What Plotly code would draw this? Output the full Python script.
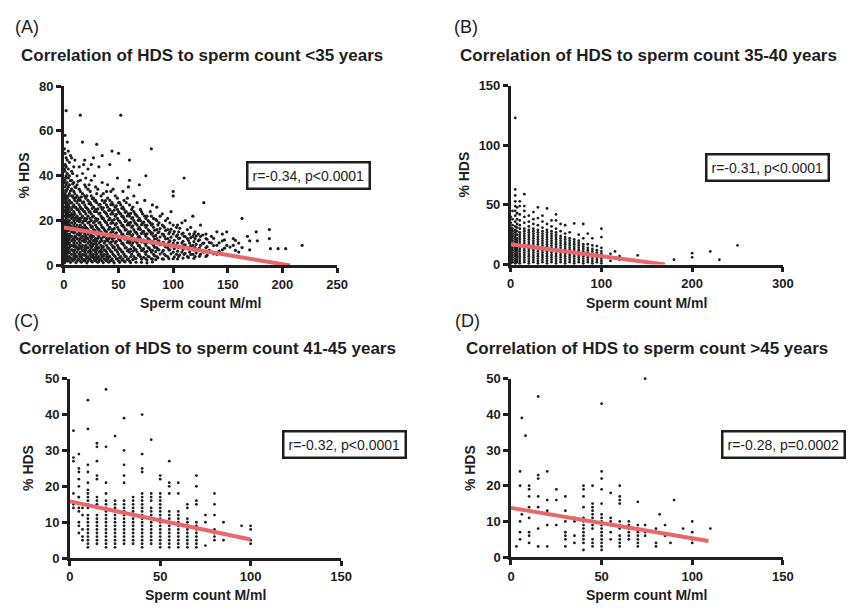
import plotly.graph_objects as go

W, H = 859, 611

# ---------------- Panel A (<35 years) ----------------
A_col_x = [1, 2, 3, 4, 5, 7, 9, 10, 12, 14,
           15, 17, 19, 20, 22, 24, 25, 27, 29, 30,
           32, 34, 35, 37, 39, 40, 42, 44, 45, 47,
           49, 50, 52, 54, 55, 57, 59, 60, 62, 64,
           65, 67, 69, 70, 72, 74, 75, 77, 79, 80,
           82, 85, 87, 90, 92, 95, 97, 100, 103, 105,
           108, 110, 113, 115, 118, 120, 123, 125, 128, 130,
           135, 140, 145, 149, 155, 160, 163, 168, 170, 176,
           177, 188, 189, 196, 203, 218]
A_col_y = [
    [2, 3, 4, 5, 6, 7, 8, 9, 10, 11, 12, 13, 14, 15, 16, 17, 18, 19, 20, 22, 24, 26, 28, 30, 32, 35, 38, 42, 45, 50, 58],  # 1
    [3, 5, 7, 9, 11, 13, 15, 17, 19, 21, 23, 25, 27, 29, 31, 33, 36, 40, 44, 48, 69],  # 2
    [2, 4, 6, 8, 10, 12, 14, 16, 18, 20, 22, 24, 26, 28, 30, 34, 37, 41, 47, 55],  # 3
    [3, 5.5, 7, 9.5, 11, 13, 15.5, 17, 19, 21.5, 23, 25, 27, 31, 35, 39, 43, 51],  # 4
    [2, 4, 6, 8, 10, 12, 14, 16, 18, 20, 22, 24, 26, 29, 32, 36, 40, 46],  # 5
    [3, 5, 7, 9, 11, 13, 15, 17, 19, 21, 23, 25, 28, 31, 34, 38, 42, 48],  # 7
    [2.5, 4, 6, 8.5, 10, 12, 14.5, 16, 18, 20, 22.5, 24, 27, 30, 33, 37, 44],  # 9
    [3, 5, 7, 9, 11, 13, 15, 17, 19, 21, 23, 26, 29, 32, 35, 47],  # 10
    [2, 4, 6, 8, 10, 12, 14, 16, 18, 20, 22, 25, 28, 31, 36, 40],  # 12
    [3, 5, 7.5, 9, 11, 13.5, 15, 17, 19.5, 21, 24, 27, 30, 34, 44],  # 14
    [2, 4, 6, 8, 10, 12, 14, 16, 18, 20, 23, 26, 29, 33, 38, 67],  # 15
    [3, 5, 7, 9, 11, 13, 15, 17, 19, 22, 25, 28, 32, 41, 55],  # 17
    [2, 4.5, 6, 8, 10.5, 12, 14, 16.5, 18, 21, 24, 27, 31, 36, 47],  # 19
    [3, 5, 7, 9, 11, 13, 15, 17, 20, 23, 26, 30, 35, 39],  # 20
    [2, 4, 6, 8, 10, 12, 14, 16, 19, 22, 25, 29, 34, 43],  # 22
    [3, 5, 7, 9, 11, 13, 15, 18, 21, 24, 28, 33],  # 24
    [2, 4, 6, 8, 10, 12, 14, 17, 20, 23, 27, 31, 38, 45],  # 25
    [3.5, 5, 7, 9.5, 11, 13, 16, 19, 22, 26, 30, 48],  # 27
    [2, 4, 6, 8, 10, 12, 15, 18, 21, 25, 29, 35],  # 29
    [3, 5, 7, 9, 11, 14, 17, 20, 24, 28, 32, 54],  # 30
    [2, 4, 6, 8, 10, 13, 16, 19, 23, 27, 44],  # 32
    [3, 5, 7, 9, 12, 15, 18, 22, 26, 31],  # 34
    [2, 4, 6, 8, 11, 14, 17, 21, 25, 29, 37, 49],  # 35
    [3, 5, 7, 10, 13, 16, 20, 24, 28],  # 37
    [2, 4, 6, 9, 12, 15, 19, 23, 27, 33],  # 39
    [3, 5, 8, 11, 14, 18, 22, 26, 30, 36],  # 40
    [2, 4, 7, 10, 13, 17, 21, 25, 29, 45],  # 42
    [3, 6, 9, 12, 16, 20, 24, 28, 51],  # 44
    [2, 5, 8, 11, 15, 19, 23, 27, 34],  # 45
    [4, 7, 10, 14, 18, 22, 26, 31],  # 47
    [3, 6, 9, 13, 17, 21, 25, 30, 39],  # 49
    [2, 5, 8, 12, 16, 20, 24, 28, 50],  # 50
    [4, 7, 11, 15, 19, 23, 27, 67],  # 52
    [3, 6, 10, 14, 18, 22, 26, 33],  # 54
    [2, 5, 9, 13, 17, 21, 25, 29],  # 55
    [4, 8, 12, 16, 20, 24, 28],  # 57
    [3, 7, 11, 15, 19, 23, 35],  # 59
    [2, 6, 10, 14, 18, 22, 27, 38, 47],  # 60
    [5, 9, 13, 17, 21, 25],  # 62
    [4, 8, 12, 16, 20, 24, 31],  # 64
    [3, 7, 11, 15, 19, 23],  # 65
    [6, 10, 14, 18, 22, 28],  # 67
    [5, 9, 13, 17, 21, 36],  # 69
    [4, 8, 12, 16, 20, 25],  # 70
    [7, 11, 15, 19, 23],  # 72
    [6, 10, 14, 18, 22, 29],  # 74
    [3, 5, 9, 13, 17, 21, 40],  # 75
    [4, 8, 12, 16, 20],  # 77
    [7, 11, 15, 19, 24],  # 79
    [3, 6, 10, 14, 18, 22, 52],  # 80
    [5, 9, 13, 17, 21],  # 82
    [4, 8, 12, 16, 20, 26],  # 85
    [7, 11, 15, 19],  # 87
    [3, 6, 10, 14, 18, 23],  # 90
    [5, 9, 13, 17],  # 92
    [4, 8, 12, 16, 21],  # 95
    [7, 11, 15, 19],  # 97
    [3, 6, 10, 14, 18, 31, 33],  # 100
    [5, 9, 13, 17],  # 103
    [4, 8, 12, 15],  # 105
    [6, 10, 14, 19],  # 108
    [5, 9, 13, 39],  # 110
    [4, 8, 12, 16],  # 113
    [6, 10, 14],  # 115
    [5, 9, 13, 22],  # 118
    [4, 8, 12, 15],  # 120
    [7, 11, 14],  # 123
    [5, 9, 13, 18],  # 125
    [6, 10, 28],  # 128
    [4, 8, 12, 14],  # 130
    [6, 10, 13],  # 135
    [5, 9, 15],  # 140
    [7, 11, 14],  # 145
    [9, 15],  # 149
    [9, 12],  # 155
    [6, 10],  # 160
    [8, 21],  # 163
    [13],  # 168
    [7, 11],  # 170
    [15],  # 176
    [11],  # 177
    [12, 16],  # 188
    [7.5],  # 189
    [7.5],  # 196
    [7.5],  # 203
    [9],  # 218
]
# additional (irregular) points of the dense cloud in panel A
A_extra_x = [0.5, 1.5, 6, 8, 11, 13, 16, 18, 21, 23,
             26, 28, 31, 33, 36, 38, 41, 43, 46, 48,
             51, 53, 56, 58, 61, 63, 66, 68, 71, 73,
             76, 78, 81, 83, 84, 86, 88, 91, 93, 96,
             98, 101, 104, 106, 109, 111, 114, 116, 119, 121,
             124, 127, 131, 133, 137, 142, 147, 152, 157]
A_extra_y = [
    [1.2, 2.2, 4.8, 9.6, 14.2, 19.8, 24.5, 31, 37, 43, 52],  # 0.5
    [2.6, 7.4, 12.8, 18.3, 23.7, 29.2, 33.5, 39.1, 44.6],  # 1.5
    [1.4, 3.4, 8.7, 13.1, 17.6, 22.4, 27.9, 33.2, 37.8, 49],  # 6
    [2.2, 6.9, 11.6, 16.3, 21.7, 26.1, 30.9, 36.4, 41],  # 8
    [1.3, 4.1, 8.3, 12.6, 16.9, 21.4, 25.8, 30.3, 34.8],  # 11
    [2.7, 7.2, 11.8, 16.1, 20.6, 24.9, 29.1, 37.5],  # 13
    [1.5, 3.8, 8.1, 12.4, 16.7, 21.2, 25.3, 30.6],  # 16
    [2.4, 6.6, 11.1, 15.4, 19.8, 24.2, 28.4, 45],  # 18
    [1.2, 3.6, 7.9, 12.2, 16.6, 20.9, 25.6, 31],  # 21
    [2.9, 6.4, 10.7, 15.2, 19.3, 23.8, 27.6, 36],  # 23
    [1.6, 4.3, 8.6, 12.9, 17.3, 21.6, 25.4, 29.8],  # 26
    [2.5, 6.8, 11.3, 15.7, 19.6, 24.1, 28.7, 40],  # 28
    [1.4, 3.3, 7.7, 12.1, 16.4, 20.7, 25.2, 34],  # 31
    [2.8, 6.3, 10.6, 14.9, 19.1, 23.4, 27.3],  # 33
    [1.3, 4.2, 8.4, 12.7, 16.8, 21.1, 25.7, 32],  # 36
    [2.6, 6.7, 10.9, 15.3, 19.4, 23.6, 28.9],  # 38
    [1.5, 3.7, 7.6, 11.9, 16.2, 20.3, 24.6],  # 41
    [2.3, 6.2, 10.4, 14.7, 18.8, 22.9, 27.1, 33],  # 43
    [1.2, 4.4, 8.2, 12.3, 16.4, 20.5, 24.7],  # 46
    [2.9, 6.9, 10.8, 14.6, 18.7, 22.8, 26.6],  # 48
    [1.4, 3.5, 7.4, 11.4, 15.6, 19.7, 23.3, 28],  # 51
    [2.4, 6.1, 9.8, 13.9, 17.8, 21.9, 25.5],  # 53
    [1.6, 4.1, 7.8, 11.7, 15.8, 19.6, 23.7],  # 56
    [2.7, 6.5, 10.3, 14.2, 18.1, 22.1, 30],  # 58
    [1.3, 3.9, 7.3, 11.2, 15.1, 19.2, 23.2],  # 61
    [2.6, 6.4, 10.1, 13.8, 17.7, 21.3, 26],  # 63
    [1.5, 3.2, 7.1, 10.9, 14.8, 18.6, 22.6],  # 66
    [4.6, 8.8, 12.5, 16.3, 20.1],  # 68
    [1.4, 2.8, 6.6, 10.5, 14.3, 18.2, 24],  # 71
    [3.6, 7.5, 11.3, 15.2, 19.3],  # 73
    [1.2, 2.4, 6.3, 10.2, 14.1, 17.9, 22],  # 76
    [3.9, 7.7, 11.5, 15.4, 19.5],  # 78
    [1.6, 2.9, 6.8, 10.6, 14.4, 18.4, 27],  # 81
    [4.3, 8.1, 11.8, 15.7],  # 83
    [2.6, 6.2, 13.4, 20.6],  # 84
    [3.4, 7.2, 10.8, 14.6, 18.1],  # 86
    [5.1, 9.3, 12.7, 16.4, 22],  # 88
    [2.8, 6.7, 10.3, 13.9, 17.6],  # 91
    [4.4, 8.3, 11.9, 15.6, 20],  # 93
    [3.1, 6.9, 10.4, 14.2],  # 96
    [5.2, 8.8, 12.6, 16.2, 24],  # 98
    [3.8, 7.6, 11.2, 15.1],  # 101
    [2.9, 6.4, 10.1, 13.7, 18],  # 104
    [4.7, 8.5, 12.2, 16.6],  # 106
    [3.3, 7.1, 10.8, 14.4],  # 109
    [5.4, 9.2, 12.9, 20],  # 111
    [3.6, 7.4, 11.1],  # 114
    [4.9, 8.7, 12.4, 17],  # 116
    [3.2, 6.9, 10.6, 14.1],  # 119
    [5.6, 9.4, 13.2],  # 121
    [4.1, 7.8, 11.4],  # 124
    [6.2, 9.9, 13.6],  # 127
    [4.6, 8.4, 11.7],  # 131
    [6.8, 10.3],  # 133
    [5.2, 8.9, 12.1],  # 137
    [6.4, 10.1],  # 142
    [7.7, 11.4],  # 147
    [8.2],  # 152
    [6.7, 11.2],  # 157
]
A_fit_x = [0, 207]
A_fit_y = [16.9, 0]

# ---------------- Panel B (35-40 years) ----------------
B_col_x = [0, 2, 5, 7, 10, 15, 20, 25, 30, 35, 40, 45, 50, 55, 60, 65, 70, 75, 80, 85,
           90, 95, 100, 110, 115, 120, 140, 180, 200, 220, 230, 250]
B_col_y = [
    [1, 3, 5, 7, 9, 11, 13, 15, 17, 19, 21, 23, 25, 27, 29, 31, 35, 40],  # 0
    [2, 4, 6, 8, 10, 12, 14, 16, 18, 20, 22, 24, 26, 28, 30, 33, 38, 45],  # 2
    [1, 3, 5, 7, 9, 11, 13, 15, 17, 19, 21, 23, 25, 27, 29, 32, 36, 41, 45, 49, 53, 58, 63, 123],  # 5
    [2, 4, 6, 8, 10, 12, 14, 16, 18, 20, 22, 25, 28, 31, 34, 38, 43, 48],  # 7
    [1, 3, 5, 7, 9, 11, 13, 15, 17, 19, 21, 23, 25, 27, 30, 33, 37, 42, 49, 53],  # 10
    [2, 4, 6, 8, 10, 12, 14, 16, 18, 20, 22, 24, 26, 28, 30, 35, 40, 45, 49, 59],  # 15
    [1, 3, 5, 7, 9, 11, 13, 15, 17, 19, 21, 23, 25, 27, 29, 32, 36, 41],  # 20
    [2, 4, 6, 8, 10, 12, 14, 16, 18, 20, 22, 24, 26, 28, 30, 34, 38, 44],  # 25
    [1, 3, 5, 7, 9, 11, 13, 15, 17, 19, 21, 23, 25, 27, 29, 33, 39, 48],  # 30
    [2, 4, 6, 8, 10, 12, 14, 16, 18, 20, 22, 24, 26, 28, 31, 36, 41],  # 35
    [1, 3, 5, 7, 9, 11, 13, 15, 17, 19, 21, 23, 25, 27, 29, 34, 47],  # 40
    [2, 4, 6, 8, 10, 12, 14, 16, 18, 20, 22, 24, 26, 28, 32, 37],  # 45
    [1, 3, 5, 7, 9, 11, 13, 15, 17, 19, 21, 23, 25, 27, 30, 37, 42],  # 50
    [2, 4, 6, 8, 10, 12, 14, 16, 18, 20, 22, 24, 28, 34],  # 55
    [1, 3, 5, 7, 9, 11, 13, 15, 17, 19, 21, 23, 26, 33],  # 60
    [2, 4, 6, 8, 10, 12, 14, 16, 18, 20, 22, 27],  # 65
    [1, 3, 5, 7, 9, 11, 13, 15, 17, 19, 21, 34.5],  # 70
    [2, 4, 6, 8, 10, 12, 14, 16, 18, 20, 25],  # 75
    [1, 3, 5, 7, 9, 11, 13, 15, 17, 22, 34],  # 80
    [2, 4, 6, 8, 10, 12, 14, 17, 26],  # 85
    [1, 3, 5, 7, 9, 11, 13, 16, 22],  # 90
    [2, 4, 6, 8, 10, 12, 15.5],  # 95
    [1, 3, 5, 7, 9, 11, 14, 23, 30],  # 100
    [3, 6, 9],  # 110
    [11],  # 115
    [4, 7],  # 120
    [7.7],  # 140
    [4],  # 180
    [6, 9.5],  # 200
    [11],  # 220
    [4],  # 230
    [16],  # 250
]
B_fit_x = [0, 170]
B_fit_y = [17, 0]

# ---------------- Panel C (41-45 years) ----------------
C_col_x = [2, 5, 7, 10, 15, 20, 25, 30, 35, 40, 45, 50, 55, 60, 65, 70, 75, 80, 85, 95, 100]
C_col_y = [
    [35.5, 28, 27, 18, 15, 14],  # 2
    [29, 25, 24, 22, 20, 17, 17, 14, 13, 10, 9, 7],  # 5
    [14, 12, 8, 6, 5],  # 7
    [44, 36, 26, 24, 21, 19, 18, 17, 16, 15, 14, 12, 11, 10, 9, 8, 7, 6, 5, 4, 3],  # 10
    [32, 31, 27, 23, 22, 17, 16, 15, 14, 12, 11, 10, 9, 8, 7, 6, 5, 4],  # 15
    [47, 31, 21, 18, 16, 15, 14, 13, 12, 11, 10, 9, 8, 7, 6, 5, 4, 3],  # 20
    [34, 16, 15, 14, 13, 12, 11, 10, 9, 8, 7, 6, 5, 4, 3],  # 25
    [39, 30, 26, 23, 21, 16, 15, 14, 13, 12, 11, 10, 9, 8, 7, 6, 5, 4],  # 30
    [17, 16, 15, 14, 13, 12, 11, 10, 9, 8, 7, 6, 5, 4],  # 35
    [40, 29, 25, 24, 18, 17, 16, 15, 14, 13, 12, 11, 10, 9, 8, 7, 6, 5, 4, 3],  # 40
    [33, 18, 17, 16, 14, 13, 12, 11, 10, 9, 8, 7, 6, 5, 4],  # 45
    [23, 22, 18, 17, 16, 15, 14, 13, 12, 11, 10, 9, 8, 7, 6, 5, 4, 3],  # 50
    [27, 21, 20, 18, 13, 12, 11, 10, 9, 8, 7, 6, 5, 4, 3],  # 55
    [21, 18, 13, 12, 11, 10, 9, 8, 7, 6, 5, 4, 3],  # 60
    [15, 14, 11, 10, 9, 8, 7, 6, 5, 4, 3],  # 65
    [23, 20, 16, 15, 10, 9, 8, 7, 6, 5, 4, 3],  # 70
    [12, 10, 8, 3.5],  # 75
    [18, 15, 12, 8, 7, 6, 5],  # 80
    [10, 5],  # 85
    [9],  # 95
    [9, 8, 5, 4],  # 100
]
C_fit_x = [0, 100]
C_fit_y = [15.8, 5.2]

# ---------------- Panel D (>45 years) ----------------
D_col_x = [3, 5, 6, 8, 10, 15, 20, 25, 30, 35, 40, 45, 50, 55, 60, 65, 70, 74, 80, 82, 85,
           88, 90, 95, 100, 110]
D_col_y = [
    [3],  # 3
    [24, 20, 10, 7, 5],  # 5
    [39, 12],  # 6
    [34],  # 8
    [20, 19, 17, 14, 13, 11, 7, 6, 4],  # 10
    [45, 23, 22, 17, 14, 8, 3],  # 15
    [24, 16, 13, 12, 9, 3],  # 20
    [19, 16, 9],  # 25
    [17, 13, 10, 7, 6, 5, 3],  # 30
    [11, 10, 6, 4],  # 35
    [20, 19, 17, 14, 11, 10, 9, 8, 7, 6, 5, 4, 2],  # 40
    [20, 15, 14, 13, 12, 11, 10, 9, 8, 5, 4, 3],  # 45
    [43, 24, 22, 19, 15, 12, 11, 10, 9, 8, 7, 6, 5, 4, 3, 2],  # 50
    [18, 11, 10, 9, 7, 5],  # 55
    [20, 17, 16, 15, 10, 9, 8, 6, 5, 4, 3],  # 60
    [10, 9, 8, 7, 6, 5],  # 65
    [15.5, 9, 8, 7, 6, 5, 4, 3],  # 70
    [50, 9, 7, 6],  # 74
    [8, 7, 4, 3],  # 80
    [12],  # 82
    [9, 6],  # 85
    [4],  # 88
    [16],  # 90
    [8],  # 95
    [10, 7, 5, 4],  # 100
    [8],  # 110
]
D_fit_x = [0, 109]
D_fit_y = [13.8, 4.5]

titles = ["Correlation of HDS to sperm count <35 years",
          "Correlation of HDS to sperm count 35-40 years",
          "Correlation of HDS to sperm count 41-45 years",
          "Correlation of HDS to sperm count >45 years"]
panel_tags = ["(A)", "(B)", "(C)", "(D)"]
stats_text = ["r=-0.34, p<0.0001", "r=-0.31, p<0.0001", "r=-0.32, p<0.0001", "r=-0.28, p=0.0002"]
x_ticks = [[0, 50, 100, 150, 200, 250], [0, 100, 200, 300], [0, 50, 100, 150], [0, 50, 100, 150]]
y_ticks = [[0, 20, 40, 60, 80], [0, 50, 100, 150], [0, 10, 20, 30, 40, 50], [0, 10, 20, 30, 40, 50]]

# layout geometry (pixels)
geo = [
    dict(x0=61, x1=339, yb=265, yt=81, title=(15, 50), tag=(9, 20), ytitle=(20, 173), xtitle=(200, 303), box=(309.5, 173)),
    dict(x0=515.7, x1=792.7, yb=264, yt=80.7, title=(462, 50), tag=(456, 20), ytitle=(468, 172), xtitle=(654, 303), box=(777, 165)),
    dict(x0=67, x1=343, yb=565, yt=381, title=(13, 350), tag=(8, 322), ytitle=(25, 473), xtitle=(205, 603), box=(346.5, 449)),
    dict(x0=516, x1=792.7, yb=564, yt=381, title=(468, 350), tag=(457, 322), ytitle=(475, 473), xtitle=(654, 603), box=(793.5, 448)),
]

cols = [[(A_col_x, A_col_y), (A_extra_x, A_extra_y)], [(B_col_x, B_col_y)],
        [(C_col_x, C_col_y)], [(D_col_x, D_col_y)]]
fits = [(A_fit_x, A_fit_y), (B_fit_x, B_fit_y), (C_fit_x, C_fit_y), (D_fit_x, D_fit_y)]
msize = [3.2, 2.8, 2.8, 2.8]

FONT = "Liberation Sans"
INK = "#1e1e1e"

fig = go.Figure()
layout = dict(width=W, height=H, margin=dict(l=0, r=0, t=0, b=0),
              paper_bgcolor="white", plot_bgcolor="rgba(0,0,0,0)", showlegend=False)
annotations = []

def px(x):
    return x / W

def py(y):
    return 1 - y / H

for i in range(4):
    g = geo[i]
    sfx = "" if i == 0 else str(i + 1)
    xs, ys = [], []
    for colx, coly in cols[i]:
        for cx, cy in zip(colx, coly):
            xs += [cx] * len(cy)
            ys += cy
    fig.add_trace(go.Scatter(x=xs, y=ys, mode="markers", xaxis="x" + sfx, yaxis="y" + sfx,
                             marker=dict(size=msize[i], color=INK, line=dict(width=0)),
                             cliponaxis=False, hoverinfo="skip"))
    fig.add_trace(go.Scatter(x=fits[i][0], y=fits[i][1], mode="lines", xaxis="x" + sfx, yaxis="y" + sfx,
                             line=dict(color="#e8676b", width=4), hoverinfo="skip"))
    xt, yt = x_ticks[i], y_ticks[i]
    common = dict(showline=True, linecolor=INK, linewidth=2.5, ticks="outside", ticklen=5,
                  tickwidth=2.5, tickcolor=INK,
                  tickfont=dict(family=FONT, size=13, color=INK),
                  showgrid=False, zeroline=False)
    layout["xaxis" + sfx] = dict(domain=[px(g["x0"]), px(g["x1"])], range=[xt[0], xt[-1]],
                                 anchor="y" + sfx, tickvals=xt,
                                 ticktext=["<b>%d</b>" % v for v in xt], **common)
    layout["yaxis" + sfx] = dict(domain=[py(g["yb"]), py(g["yt"])], range=[yt[0], yt[-1]],
                                 anchor="x" + sfx, tickvals=yt,
                                 ticktext=["<b>%d</b>" % v for v in yt], **common)
    annotations += [
        dict(text=panel_tags[i], x=px(g["tag"][0]), y=py(g["tag"][1]), xref="paper", yref="paper",
             xanchor="left", yanchor="middle", showarrow=False,
             font=dict(family=FONT, size=18, color=INK)),
        dict(text="<b>" + titles[i] + "</b>", x=px(g["title"][0]), y=py(g["title"][1]), xref="paper", yref="paper",
             xanchor="left", yanchor="middle", showarrow=False,
             font=dict(family=FONT, size=17, color=INK)),
        dict(text="<b>Sperm count M/ml</b>", x=px(g["xtitle"][0]), y=py(g["xtitle"][1]), xref="paper", yref="paper",
             xanchor="center", yanchor="middle", showarrow=False,
             font=dict(family=FONT, size=14, color=INK)),
        dict(text="<b>% HDS</b>", x=px(g["ytitle"][0]), y=py(g["ytitle"][1]), xref="paper", yref="paper",
             xanchor="center", yanchor="middle", showarrow=False, textangle=-90,
             font=dict(family=FONT, size=14, color=INK)),
        dict(text=stats_text[i], x=px(g["box"][0]), y=py(g["box"][1]), xref="paper", yref="paper",
             xanchor="center", yanchor="middle", showarrow=False,
             bordercolor=INK, borderwidth=2.5, borderpad=4, bgcolor="white",
             font=dict(family=FONT, size=14, color=INK)),
    ]

layout["annotations"] = annotations
fig.update_layout(**layout)
fig.write_html("out.html")
